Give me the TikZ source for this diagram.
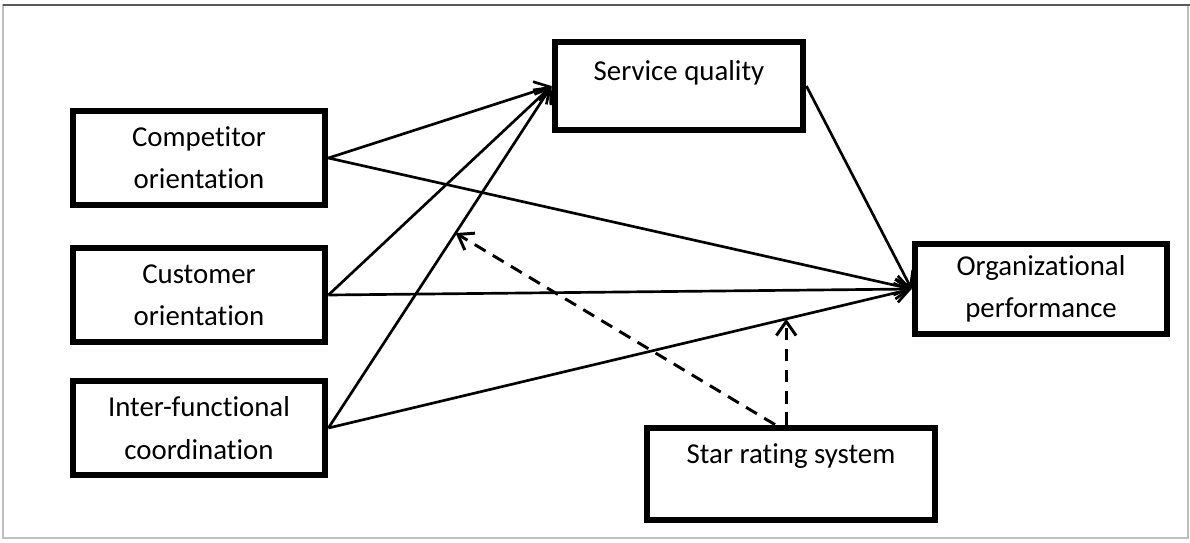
\documentclass[tikz,border=0pt]{standalone}
\usepackage{fontspec}
\setmainfont{Carlito}[Ligatures=NoCommon]
\usetikzlibrary{arrows.meta,calc}
\tikzset{
  box/.style={draw, line width=4.8pt, align=center, font=\fontsize{20.5}{30}\selectfont},
  toplbl/.style={anchor=north, font=\fontsize{20.5}{30}\selectfont},
  mod/.style={->, line width=2.1pt, dash pattern=on 9pt off 6pt},
  >={Straight Barb[length=10pt,width=14pt]}
}
\begin{document}
\begin{tikzpicture}[x=0.025cm, y=-0.025cm, line width=1.9pt]
\useasboundingbox (0,0) rectangle (1190,542);
% frame
\draw[gray!50, line width=0.8pt] (3,5) rectangle (1188,538);
\draw[black!65, line width=1.5pt] (3,5) -- (1190,5);
% boxes
\node[box, minimum width=6.3cm, minimum height=2.35cm] (comp) at (199,158) {Competitor\\orientation};
\node[box, minimum width=6.3cm, minimum height=2.35cm] (cust) at (199,295) {Customer\\orientation};
\node[box, minimum width=6.3cm, minimum height=2.35cm] (inter) at (199,428) {Inter-functional\\coordination};
\node[box, minimum width=6.2cm, minimum height=2.2cm,
  label={[toplbl, yshift=-11pt]north:Service quality}] (sq) at (679,86) {};
\node[box, minimum width=6.3cm, minimum height=2.25cm] (org) at (1041,289) {Organizational\\performance};
\node[box, minimum width=7.2cm, minimum height=2.3cm,
  label={[toplbl, yshift=-9pt]north:Star rating system}] (star) at (791,474) {};
% paths
\draw[->] (comp.east) -- (sq.west);
\draw[->] (comp.east) -- (org.west);
\draw[->] (cust.east) -- (sq.west);
\draw[->] (cust.east) -- (org.west);
\draw[->] (inter.east) -- (sq.west);
\draw[->] (inter.east) -- (org.west);
\draw[->] (sq.east) -- (org.west);
% moderating effects
\coordinate (m1) at ($(inter.east)!0.57!(sq.west)$);
\coordinate (m2) at ($(inter.east)!0.785!(org.west)$);
\draw[mod] ([xshift=-0.4cm]star.north) -- (m1);
\draw[mod] (m2 |- star.north) -- (m2);
\end{tikzpicture}
\end{document}
